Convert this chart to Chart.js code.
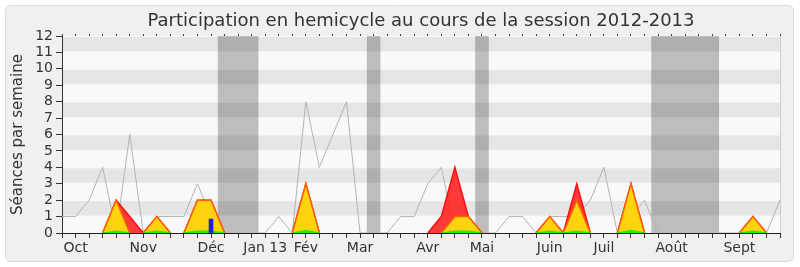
<!DOCTYPE html>
<html>
<head>
<meta charset="utf-8">
<script src="https://cdn.jsdelivr.net/npm/chart.js@4.4.1/dist/chart.umd.min.js"></script>
<style>
  html, body { margin: 0; padding: 0; background: #ffffff; }
  #wrap { width: 800px; height: 267px; }
</style>
</head>
<body>
<div id="wrap"><canvas id="chart" width="800" height="267"></canvas></div>
<script>
// Weeks of the 2012-2013 session (one entry per week), month name on the first week shown
const weekLabels = [
  '', 'Oct', '', '', '', '', 'Nov', '', '', '', '', 'Déc', '', '', '',
  'Jan 13', '', '', 'Fév', '', '', '', 'Mar', '', '', '', '', 'Avr', '', '', '',
  'Mai', '', '', '', '', 'Juin', '', '', '', 'Juil', '', '', '', '', 'Août',
  '', '', '', '', 'Sept', '', '', ''
];

// Sittings held in the hemicycle each week
const seancesHemicycle = [
  1, 1, 2, 4, 0, 6, 0, 1, 1, 1, 3, 1, 0, 0, 0,
  0, 1, 0, 8, 4, 6, 8, 0, 0, 0, 1, 1, 3, 4, 0, 0,
  0, 0, 1, 1, 0, 1, 1, 1, 2, 4, 0, 1, 2, 0, 0,
  0, 0, 0, 0, 0, 0, 0, 2
];

// Weekly presences detected
const presences = [
  0, 0, 0, 0, 2, 1, 0, 1, 0, 0, 2, 2, 0, 0, 0,
  0, 0, 0, 3, 0, 0, 0, 0, 0, 0, 0, 0, 0, 1, 4, 1,
  0, 0, 0, 0, 0, 1, 0, 3, 0, 0, 0, 3, 0, 0, 0,
  0, 0, 0, 0, 0, 1, 0, 0
];

// Weekly participations
const participations = [
  0, 0, 0, 0, 2, 0, 0, 1, 0, 0, 2, 2, 0, 0, 0,
  0, 0, 0, 3, 0, 0, 0, 0, 0, 0, 0, 0, 0, 0, 1, 1,
  0, 0, 0, 0, 0, 1, 0, 2, 0, 0, 0, 3, 0, 0, 0,
  0, 0, 0, 0, 0, 1, 0, 0
];

// Long interventions
const interventionsLongues = [
  0, 0, 0, 0, 0.1, 0, 0, 0.1, 0, 0, 0.1, 0.1, 0, 0, 0,
  0, 0, 0, 0.15, 0, 0, 0, 0, 0, 0, 0, 0, 0, 0, 0.1, 0.1,
  0, 0, 0, 0, 0, 0.1, 0, 0.1, 0, 0, 0, 0.15, 0, 0, 0,
  0, 0, 0, 0, 0, 0.1, 0, 0
];

// Oral questions
const questionsOrales = [
  null, null, null, null, null, null, null, null, null, null, null, 0.85, null, null, null,
  null, null, null, null, null, null, null, null, null, null, null, null, null, null, null, null,
  null, null, null, null, null, null, null, null, null, null, null, null, null, null, null,
  null, null, null, null, null, null, null, null
];

// Parliamentary recess weeks
const vacationWeeks = [12, 13, 14, 23, 31, 44, 45, 46, 47, 48];

const yMax = 12;
const yTicks = [0, 1, 2, 3, 4, 5, 6, 7, 8, 9, 10, 11, 12];

const FONT = 'DejaVu Sans';
Chart.defaults.font.family = FONT;

// Panel background and alternating horizontal bands behind the plot
const backdrop = {
  id: 'backdrop',
  beforeDraw(chart) {
    const { ctx, chartArea: a, scales } = chart;
    const y = scales.y;
    ctx.save();
    ctx.fillStyle = '#ffffff';
    ctx.fillRect(0, 0, chart.width, chart.height);

    // rounded panel
    const x0 = 5.5, y0 = 5.5, x1 = 793.5, y1 = 261.5, r = 6;
    ctx.beginPath();
    ctx.moveTo(x0 + r, y0);
    ctx.lineTo(x1 - r, y0);
    ctx.quadraticCurveTo(x1, y0, x1, y0 + r);
    ctx.lineTo(x1, y1 - r);
    ctx.quadraticCurveTo(x1, y1, x1 - r, y1);
    ctx.lineTo(x0 + r, y1);
    ctx.quadraticCurveTo(x0, y1, x0, y1 - r);
    ctx.lineTo(x0, y0 + r);
    ctx.quadraticCurveTo(x0, y0, x0 + r, y0);
    ctx.closePath();
    ctx.fillStyle = '#f0f0f0';
    ctx.fill();
    ctx.strokeStyle = '#dadada';
    ctx.lineWidth = 1;
    ctx.stroke();

    // plot background
    ctx.fillStyle = '#f9f9f9';
    ctx.fillRect(a.left, a.top, a.right - a.left, a.bottom - a.top);

    // darker band on every other unit
    ctx.fillStyle = '#e5e5e5';
    for (let v = 1; v < yMax; v += 2) {
      const top = y.getPixelForValue(v + 1) + 1;
      const bot = y.getPixelForValue(v) - 1;
      ctx.fillRect(a.left, top, a.right - a.left, bot - top);
    }

    // right edge of the plot
    ctx.strokeStyle = '#cccccc';
    ctx.beginPath();
    ctx.moveTo(a.right + 0.5, a.top);
    ctx.lineTo(a.right + 0.5, a.bottom);
    ctx.stroke();
    ctx.restore();
  }
};

// Recess weeks shaded as one block per run of consecutive weeks, one week wide each
const recess = {
  id: 'recess',
  beforeDatasetsDraw(chart) {
    const { ctx, chartArea: a, scales } = chart;
    const x = scales.x;
    const step = x.getPixelForValue(1) - x.getPixelForValue(0);
    const weeks = [...vacationWeeks].sort((p, q) => p - q);
    const runs = [];
    for (const w of weeks) {
      const last = runs[runs.length - 1];
      if (last && w === last[1] + 1) last[1] = w; else runs.push([w, w]);
    }
    ctx.save();
    ctx.fillStyle = 'rgba(0,0,0,0.24)';
    for (const [s, e] of runs) {
      const left = x.getPixelForValue(s) - step / 2;
      const right = x.getPixelForValue(e) + step / 2;
      ctx.fillRect(left, a.top, right - left, a.bottom - a.top);
    }
    ctx.restore();
  }
};

// hide the stroke where an area lies flat on the axis
const flatHidden = ctx => (ctx.p0.parsed.y === 0 && ctx.p1.parsed.y === 0) ? 'rgba(0,0,0,0)' : undefined;

new Chart(document.getElementById('chart'), {
  type: 'line',
  data: {
    labels: weekLabels,
    datasets: [
      {
        label: 'Séances',
        data: seancesHemicycle,
        borderColor: '#b4b4b4',
        borderWidth: 1,
        pointRadius: 0,
        fill: false,
        tension: 0,
        order: 5
      },
      {
        label: 'Présences détectées',
        data: presences,
        borderColor: '#ff1010',
        backgroundColor: 'rgba(255,25,25,0.85)',
        borderWidth: 1.5,
        pointRadius: 0,
        fill: 'origin',
        tension: 0,
        segment: { borderColor: flatHidden },
        order: 4
      },
      {
        label: 'Participations',
        data: participations,
        borderColor: '#ff6000',
        backgroundColor: '#ffd40f',
        borderWidth: 1.5,
        pointRadius: 0,
        fill: 'origin',
        tension: 0,
        segment: { borderColor: flatHidden },
        order: 3
      },
      {
        label: 'Interventions longues',
        data: interventionsLongues,
        borderColor: '#22ee00',
        backgroundColor: '#22ee00',
        borderWidth: 1.5,
        pointRadius: 0,
        fill: 'origin',
        tension: 0,
        segment: { borderColor: flatHidden },
        order: 2
      },
      {
        type: 'bar',
        label: 'Questions orales',
        data: questionsOrales,
        backgroundColor: '#1f1fe0',
        borderWidth: 0,
        barThickness: 4,
        grouped: false,
        order: 1
      }
    ]
  },
  options: {
    responsive: false,
    animation: false,
    devicePixelRatio: 1,
    layout: { padding: { left: 5, right: 20, top: 5, bottom: 0 } },
    plugins: {
      legend: { display: false },
      tooltip: { enabled: false },
      title: {
        display: true,
        text: 'Participation en hemicycle au cours de la session 2012-2013',
        color: '#333333',
        fullSize: false,
        font: { family: FONT, size: 18, weight: 'normal' },
        padding: { top: 6, bottom: 1.4 }
      }
    },
    scales: {
      x: {
        type: 'category',
        position: 'bottom',
        offset: false,
        z: 1,
        grid: { drawOnChartArea: false, drawTicks: true, tickLength: 5, color: '#333333', offset: false },
        border: { display: true, color: '#2a1a1a', width: 1 },
        ticks: {
          autoSkip: false, maxRotation: 0, minRotation: 0, padding: 2,
          color: '#333333', font: { family: FONT, size: 14 }
        },
        afterFit(s) { s.height = 34; }
      },
      xTop: {
        type: 'category',
        position: 'top',
        offset: false,
        grid: { drawOnChartArea: false, drawTicks: true, tickLength: 2, color: '#444444', offset: false },
        border: { display: false },
        ticks: { display: false },
        afterFit(s) { s.height = 2; }
      },
      y: {
        min: 0,
        max: yMax,
        position: 'left',
        afterBuildTicks(s) { s.ticks = yTicks.map(v => ({ value: v })); },
        grid: { drawOnChartArea: false, drawTicks: true, tickLength: 6, color: '#333333' },
        border: { display: true, color: '#333333', width: 1 },
        ticks: { autoSkip: false, padding: 3, color: '#333333', font: { family: FONT, size: 14 } },
        title: {
          display: true,
          text: 'Séances par semaine',
          color: '#333333',
          font: { family: FONT, size: 15 },
          padding: { top: 4, bottom: 0 }
        },
        afterFit(s) { s.width = 57; }
      }
    }
  },
  plugins: [backdrop, recess]
});
</script>
</body>
</html>
